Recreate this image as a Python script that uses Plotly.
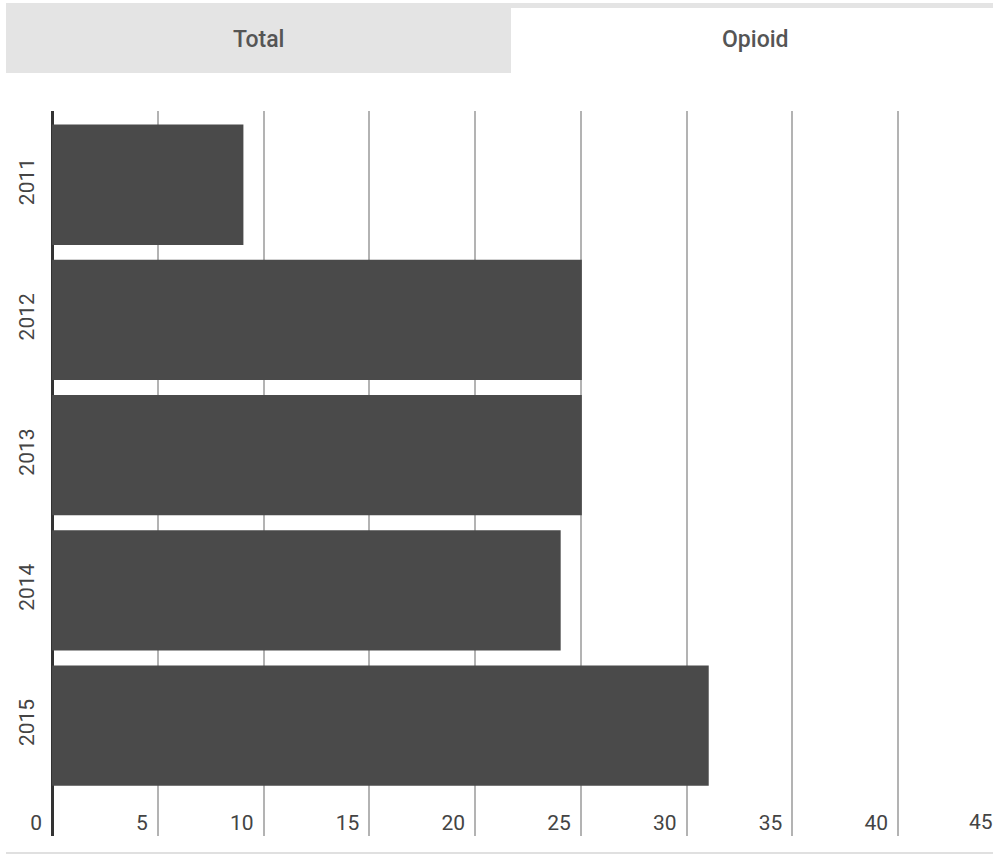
import plotly.graph_objects as go

years = ["2011", "2012", "2013", "2014", "2015"]
values = [9.05, 25.05, 25.05, 24.05, 31.05]
x_ticks = [0, 5, 10, 15, 20, 25, 30, 35, 40]
x_tick_labels = ["0", "5", "10", "15", "20", "25", "30", "35", "40"]
last_tick_label = "45"
tabs = ["Total", "Opioid"]

BAR = "#4a4a4a"
TXT = "#444444"
GRID = "#b3b3b3"
TABGRAY = "#e4e4e4"
FONT = "Roboto"

W, H = 993, 856
ML, MR, MT, MB = 52, 0, 111, 20
PW, PH = W - ML - MR, H - MT - MB


def px(x):
    return (x - ML) / PW


def py(y):
    return (H - MB - y) / PH


fig = go.Figure()
fig.add_trace(go.Bar(
    x=values, y=years, orientation="h",
    marker=dict(color=BAR, line=dict(width=0)),
    hoverinfo="x+y",
))

fig.update_layout(
    width=W, height=H,
    margin=dict(l=ML, r=MR, t=MT, b=MB, pad=0),
    plot_bgcolor="white", paper_bgcolor="white",
    bargap=0.11,
    showlegend=False,
    font=dict(family=FONT, size=21, color=TXT),
    xaxis=dict(
        range=[0, 44.49],
        tickvals=x_ticks, ticktext=x_tick_labels,
        ticklabelposition="inside left",
        ticklabeloverflow="allow",
        ticklabelshift=-10,
        ticklabelstandoff=-4,
        showgrid=True, gridcolor=GRID, gridwidth=1.6,
        zeroline=True, zerolinecolor="#333333", zerolinewidth=2.5,
        showline=False, ticks="",
        tickfont=dict(family=FONT, size=21, color=TXT),
        fixedrange=True,
    ),
    yaxis=dict(
        type="category",
        range=[4.816, -0.545],
        tickangle=-90,
        showgrid=False, zeroline=False, showline=False, ticks="",
        tickfont=dict(family=FONT, size=21, color=TXT),
        ticklabelstandoff=13,
        fixedrange=True,
    ),
)

# last x tick label (its gridline falls just beyond the visible area)
fig.add_annotation(
    text=last_tick_label, xref="paper", yref="paper",
    x=1.0, y=py(822), xanchor="right", yanchor="middle", xshift=2,
    showarrow=False, font=dict(family=FONT, size=21, color=TXT),
)

# tab strip
fig.add_shape(type="rect", xref="paper", yref="paper",
              x0=px(6), x1=px(W), y0=py(8), y1=py(3),
              fillcolor=TABGRAY, line=dict(width=0), layer="below")
fig.add_shape(type="rect", xref="paper", yref="paper",
              x0=px(6), x1=px(511), y0=py(73), y1=py(3),
              fillcolor=TABGRAY, line=dict(width=0), layer="below")
fig.add_annotation(text=tabs[0], xref="paper", yref="paper",
                   x=px(258), y=py(40), xanchor="center", yanchor="middle",
                   showarrow=False,
                   font=dict(family=FONT, size=23, color="#555555", weight=500))
fig.add_annotation(text=tabs[1], xref="paper", yref="paper",
                   x=px(755), y=py(40), xanchor="center", yanchor="middle",
                   showarrow=False,
                   font=dict(family=FONT, size=23, color="#555555", weight=500))

# bottom separator line
fig.add_shape(type="line", xref="paper", yref="paper",
              x0=px(6), x1=px(W), y0=py(853), y1=py(853),
              line=dict(color="#e0e0e0", width=2))

fig.write_html("out.html", config={"displayModeBar": False},
               post_script="document.body.style.margin='0';document.body.style.overflow='hidden';")
